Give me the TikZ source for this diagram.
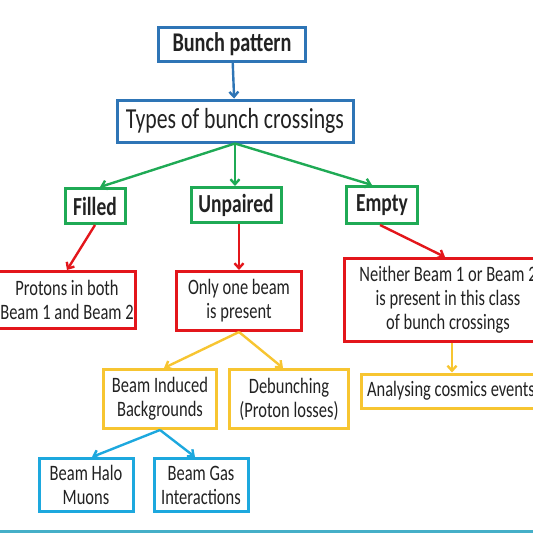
\documentclass[tikz,border=0pt]{standalone}
\usepackage{fontspec}
\setmainfont{Carlito}[FakeStretch=0.75]
\usetikzlibrary{arrows.meta}
\definecolor{bpblue}{HTML}{2E75B6}
\definecolor{bpgreen}{HTML}{1FAA55}
\definecolor{bpred}{HTML}{E3161B}
\definecolor{bpyellow}{HTML}{F7C531}
\definecolor{bpcyan}{HTML}{1DA8DE}
\definecolor{bpline}{HTML}{45AFC8}
\definecolor{bptext}{HTML}{222222}
\begin{document}
\begin{tikzpicture}[x=1pt,y=-1pt,
  box/.style={draw,line width=3pt,fill=white,align=center,inner sep=0pt,text=bptext},
  bluebox/.style={box,draw=bpblue},
  greenbox/.style={box,draw=bpgreen,font=\bfseries\fontsize{26}{28}\selectfont},
  redbox/.style={box,draw=bpred,font=\fontsize{22}{24}\selectfont},
  yellowbox/.style={box,draw=bpyellow,font=\fontsize{22}{24}\selectfont},
  cyanbox/.style={box,draw=bpcyan,font=\fontsize{22}{24}\selectfont},
  link/.style={line width=2.4pt,-{Straight Barb[length=5pt,width=9pt]}}]
  \useasboundingbox (0,0) rectangle (533,533);
  \begin{scope}
  \clip (0,0) rectangle (533,533);
  \node[bluebox,font=\bfseries\fontsize{27}{29}\selectfont,minimum width=147pt,minimum height=34pt] (pattern) at (232,44) {Bunch pattern};
  \node[bluebox,font=\fontsize{29}{31}\selectfont,minimum width=236pt,minimum height=42pt] (types) at (235,121) {Types of bunch crossings};
  \node[greenbox,minimum width=60pt,minimum height=35pt] (filled) at (95,206) {Filled};
  \node[greenbox,minimum width=90pt,minimum height=35pt] (unpaired) at (236,205) {Unpaired};
  \node[greenbox,minimum width=71pt,minimum height=37pt] (empty) at (382,205) {Empty};
  \node[redbox,minimum width=137pt,minimum height=57pt] (protons) at (67,300) {Protons in both\\Beam 1 and Beam 2};
  \node[redbox,minimum width=125pt,minimum height=59pt] (onebeam) at (239,301) {Only one beam\\is present};
  \node[redbox,minimum width=207pt,minimum height=83pt] (neither) at (448,300) {Neither Beam 1 or Beam 2\\is present in this class\\of bunch crossings};
  \node[yellowbox,minimum width=113pt,minimum height=59pt] (induced) at (160,399) {Beam Induced\\Backgrounds};
  \node[yellowbox,minimum width=119pt,minimum height=59pt] (debunch) at (289,399) {Debunching\\(Proton losses)};
  \node[yellowbox,minimum width=180pt,minimum height=34pt] (cosmics) at (451,391) {Analysing cosmics events};
  \node[cyanbox,minimum width=94pt,minimum height=53pt] (halo) at (86,485) {Beam Halo\\Muons};
  \node[cyanbox,minimum width=94pt,minimum height=53pt] (gas) at (201,485) {Beam Gas\\Interactions};
  \end{scope}
  \draw[link,bpblue] (pattern) -- (types);
  \draw[link,bpgreen] (types.south) -- ([xshift=5pt]filled.north);
  \draw[link,bpgreen] (types.south) -- (types.south |- unpaired.north);
  \draw[link,bpgreen] (types.south) -- ([xshift=-10pt]empty.north);
  \draw[link,bpred] (filled.south) -- (protons.north);
  \draw[link,bpred] (unpaired.south -| onebeam.north) -- (onebeam.north);
  \draw[link,bpred] ([xshift=-2pt]empty.south) -- ([xshift=-3pt]neither.north);
  \draw[link,bpyellow] (onebeam.south) -- ([xshift=4pt]induced.north);
  \draw[link,bpyellow] (onebeam.south) -- ([xshift=-6pt]debunch.north);
  \draw[link,bpyellow] ([xshift=4pt]neither.south) -- ([xshift=4pt]neither.south |- cosmics.north);
  \draw[link,bpcyan] (induced.south) -- ([xshift=6pt]halo.north);
  \draw[link,bpcyan] (induced.south) -- ([xshift=-6pt]gas.north);
  \fill[bpline] (0,530) rectangle (533,533);
\end{tikzpicture}
\end{document}
